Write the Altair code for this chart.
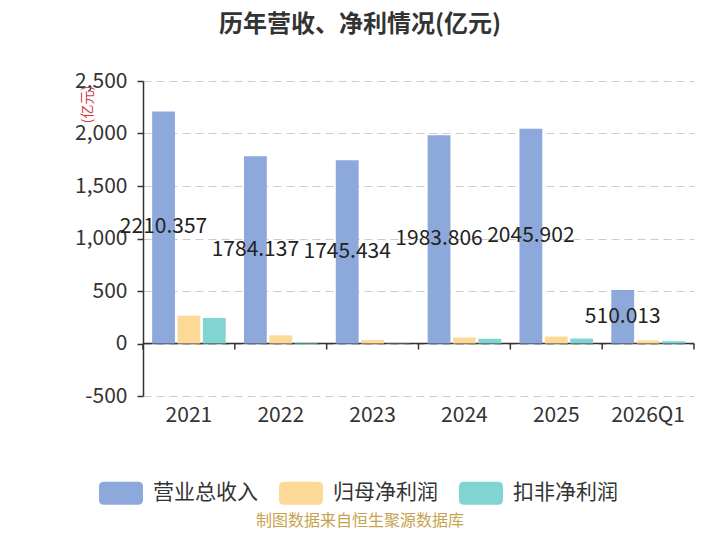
import altair as alt
import pandas as pd

# ---- data ----
categories = ["2021", "2022", "2023", "2024", "2025", "2026Q1"]
series_names = ["营业总收入", "归母净利润", "扣非净利润"]
revenue = [2210.357, 1784.137, 1745.434, 1983.806, 2045.902, 510.013]
parent_profit = [265, 78, 33, 57, 66, 29]
deducted_profit = [243, -12, 3, 45, 47, 22]
series_colors = ["#8DA9DB", "#FDD998", "#80D5D3"]
y_ticks = [-500, 0, 500, 1000, 1500, 2000, 2500]
title_text = ["历年营收、净利情况(亿元)"]
footer_text = ["制图数据来自恒生聚源数据库"]
y_title = "(亿元)"

rows = []
for i, c in enumerate(categories):
    for s, vals in zip(series_names, [revenue, parent_profit, deducted_profit]):
        rows.append({"cat": c, "series": s, "value": vals[i]})
df = pd.DataFrame(rows)

FONT = "Noto Sans CJK SC"
W, H = 551, 315

x_scale = alt.Scale(domain=categories, paddingInner=0, paddingOuter=0)
off_scale = alt.Scale(domain=series_names, paddingInner=0.1, paddingOuter=0.36)
y_scale = alt.Scale(domain=[-500, 2500], nice=False, zero=False)
color_scale = alt.Scale(domain=series_names, range=series_colors)

x_axis = alt.Axis(title=None, domain=False, ticks=False, grid=False,
                  labelPadding=8, labelFontSize=21, labelColor="#333",
                  labelFont=FONT, labelAngle=0)
y_axis = alt.Axis(title=y_title, values=y_ticks,
                  labelExpr="datum.value < 0 ? '-' + format(-datum.value, ',') : format(datum.value, ',')",
                  grid=True, gridDash=[8, 5], gridColor="#cccccc", gridWidth=1,
                  domainColor="#333", domainWidth=1.5,
                  tickColor="#333", tickSize=6, tickWidth=1.5,
                  labelFontSize=21, labelFont=FONT, labelColor="#333",
                  labelPadding=10,
                  titleColor="#D23A45", titleFontSize=14, titleFont=FONT,
                  titleFontWeight="normal", titleX=-56, titleY=23,
                  titleAngle=270, titleAlign="center", titleBaseline="middle")

legend_path = ("M-0.77,-0.52L0.77,-0.52Q1,-0.52 1,-0.29L1,0.29Q1,0.52 0.77,0.52"
               "L-0.77,0.52Q-1,0.52 -1,0.29L-1,-0.29Q-1,-0.52 -0.77,-0.52Z")

X = alt.X("cat:N", scale=x_scale, sort=categories, axis=x_axis)
XOFF = alt.XOffset("series:N", scale=off_scale, sort=series_names)

bars = alt.Chart(df).mark_bar().encode(
    x=X,
    xOffset=XOFF,
    y=alt.Y("value:Q", scale=y_scale, axis=y_axis),
    color=alt.Color("series:N", scale=color_scale, sort=series_names,
                    legend=alt.Legend(orient="none", legendX=-44, legendY=390,
                                      direction="horizontal", title=None,
                                      symbolType=legend_path, symbolSize=1936,
                                      symbolStrokeWidth=0, symbolOpacity=1,
                                      labelFontSize=21, labelFont=FONT, labelColor="#333",
                                      labelOffset=10, columnPadding=21, padding=0)),
)

zero_rule = alt.Chart(pd.DataFrame({"zero": [0]})).mark_rule(
    color="#333", strokeWidth=1.5
).encode(y=alt.Y("zero:Q", scale=y_scale, axis=y_axis))

tick_rules = alt.Chart(pd.DataFrame({"cat": categories})).mark_rule(
    color="#333", strokeWidth=1.5, y2Offset=6
).encode(
    x=alt.X("cat:N", bandPosition=0, scale=x_scale, sort=categories, axis=x_axis),
    y=alt.datum(0),
    y2=alt.datum(0),
)

last_tick = alt.Chart(pd.DataFrame({"cat": categories[-1:]})).mark_rule(
    color="#333", strokeWidth=1.5, y2Offset=6
).encode(
    x=alt.value(W),
    y=alt.datum(0),
    y2=alt.datum(0),
)

labels = alt.Chart(df).transform_filter(
    alt.datum.series == series_names[0]
).transform_calculate(mid="datum.value / 2").mark_text(
    fontSize=21, font=FONT, color="#222", baseline="middle", align="center"
).encode(
    x=X,
    xOffset=XOFF,
    y=alt.Y("mid:Q", scale=y_scale, axis=y_axis),
    text=alt.Text("value:Q", format=".3f"),
)

title = alt.Chart(pd.DataFrame({"t": title_text})).mark_text(
    fontSize=24, fontWeight="bold", font=FONT, color="#333",
    baseline="middle", align="center"
).encode(x=alt.value(217), y=alt.value(-56), text="t:N")

footer = alt.Chart(pd.DataFrame({"t": footer_text})).mark_text(
    fontSize=16, font=FONT, color="#C8A34E", baseline="middle", align="center"
).encode(x=alt.value(217), y=alt.value(440), text="t:N")

chart = alt.layer(zero_rule, tick_rules, last_tick, bars, labels, title, footer).properties(
    width=W, height=H,
    padding={"left": 135, "top": 73, "right": 14, "bottom": 136},
    autosize=alt.AutoSizeParams(type="none"),
).configure_view(stroke=None)

chart.save("out.html", embed_options={"renderer": "svg", "actions": False})
